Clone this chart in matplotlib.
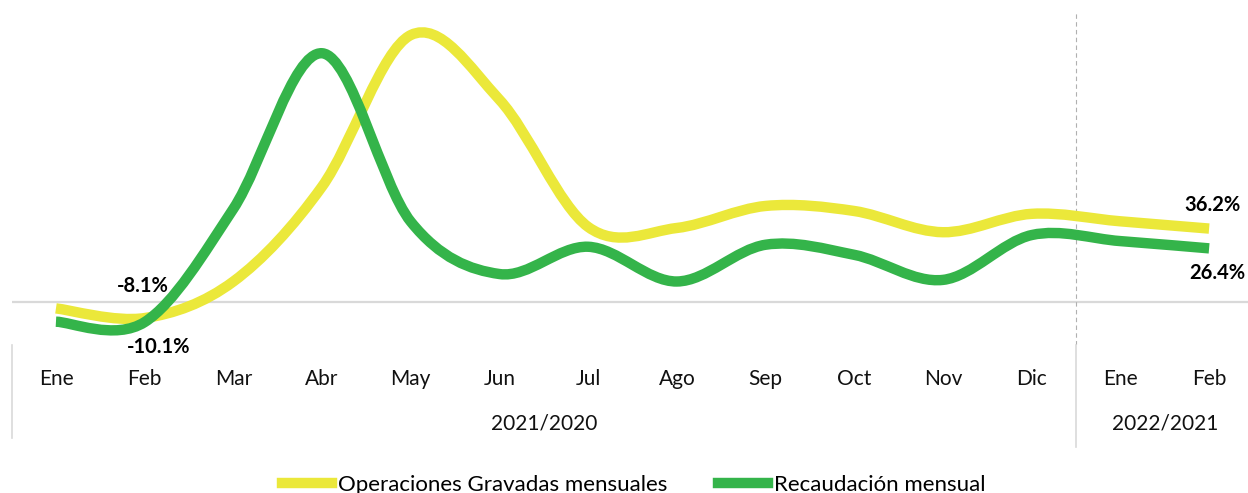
import matplotlib
matplotlib.use("Agg")
from matplotlib import pyplot as plt
from matplotlib.path import Path
from matplotlib.patches import PathPatch
from matplotlib.lines import Line2D
import numpy as np

plt.rcParams['font.family'] = ['Lato', 'DejaVu Sans']

months = ["Ene", "Feb", "Mar", "Abr", "May", "Jun", "Jul", "Ago", "Sep", "Oct", "Nov", "Dic",
          "Ene", "Feb"]
year_groups = ["2021/2020", "2022/2021"]
operaciones = [-3.3, -8.1, 10.0, 57.0, 132.0, 100.0, 37.0, 36.5, 47.4, 44.9, 34.4, 43.5, 39.8, 36.2]
recaudacion = [-9.9, -10.1, 46.0, 123.0, 39.6, 13.7, 27.2, 10.0, 28.2, 23.2, 10.8, 33.0, 30.0, 26.4]

YELLOW = '#ebe83a'
GREEN = '#34b44a'
W, H = 1248, 493


def smooth_path(xs, ys):
    # bezier segments like the office "smoothed line" option
    pts = np.column_stack([xs, ys]).astype(float)
    n = len(pts)
    verts = [pts[0]]
    codes = [Path.MOVETO]
    for i in range(n - 1):
        p0 = pts[max(i - 1, 0)]
        p1 = pts[i]
        p2 = pts[i + 1]
        p3 = pts[min(i + 2, n - 1)]
        verts += [p1 + (p2 - p0) / 6.0, p2 - (p3 - p1) / 6.0, p2]
        codes += [Path.CURVE4] * 3
    return Path(verts, codes)


fig = plt.figure(figsize=(W / 100, H / 100), dpi=100)
ax_left, ax_top, ax_bottom = 11.6, 10, 345
ax = fig.add_axes([ax_left / W, 1 - ax_bottom / H, (W - ax_left) / W, (ax_bottom - ax_top) / H])

x = np.arange(len(months))
px_per_unit = 2.02
zero_px = 301.7
ax.set_ylim((zero_px - ax_bottom) / px_per_unit, (zero_px - ax_top) / px_per_unit)
ax.set_xlim(-0.5, (W - 56) / 88.7)

ax.axhline(0, color='#d9d9d9', lw=1.6, zorder=1)
ax.axvline(11.5, color='#b0b0b0', lw=0.8, ls=(0, (4, 3)), ymin=0, ymax=0.995, zorder=1)

for vals, col in [(operaciones, YELLOW), (recaudacion, GREEN)]:
    ax.add_patch(PathPatch(smooth_path(x, vals), fill=False, edgecolor=col, lw=7.5,
                           capstyle='butt', joinstyle='round', zorder=3))

# data labels
lab = dict(ha='center', va='center', fontsize=14.5, fontweight='bold', color='black',
           textcoords='offset pixels', zorder=5)
ax.annotate("-8.1%", (1, operaciones[1]), xytext=(-2, 32), **lab)
ax.annotate("-10.1%", (1, recaudacion[1]), xytext=(14, -25), **lab)
ax.annotate("36.2%", (13, operaciones[-1]), xytext=(3, 24), **lab)
ax.annotate("26.4%", (13, recaudacion[-1]), xytext=(8, -25), **lab)

ax.set_xticks(x)
ax.set_xticklabels(months, fontsize=15, color='#111111')
ax.tick_params(axis='x', length=0, pad=17)
ax.set_yticks([])
for s in ax.spines.values():
    s.set_visible(False)

# category axis group labels and dividers
tr = ax.get_xaxis_transform()
ax.text(5.5, -(424 - ax_bottom) / (ax_bottom - ax_top), year_groups[0], transform=tr,
        ha='center', va='center', fontsize=15, color='#111111')
ax.text(12.5, -(424 - ax_bottom) / (ax_bottom - ax_top), year_groups[1], transform=tr,
        ha='center', va='center', fontsize=15, color='#111111')
fig.add_artist(Line2D([12 / W, 12 / W], [1 - 345 / H, 1 - 438 / H], color='#d9d9d9', lw=1.2))
fig.add_artist(Line2D([1076 / W, 1076 / W], [1 - 345 / H, 1 - 447 / H], color='#d9d9d9', lw=1.2))

handles = [Line2D([], [], color=YELLOW, lw=7.5), Line2D([], [], color=GREEN, lw=7.5)]
fig.legend(handles, ["Operaciones Gravadas mensuales", "Recaudación mensual"],
           loc='center', bbox_to_anchor=(0.508, 1 - 485 / H), ncol=2, frameon=False,
           fontsize=16, handlelength=2.25, handletextpad=0.25, columnspacing=2.3)

fig.savefig("out.png", dpi=100)
